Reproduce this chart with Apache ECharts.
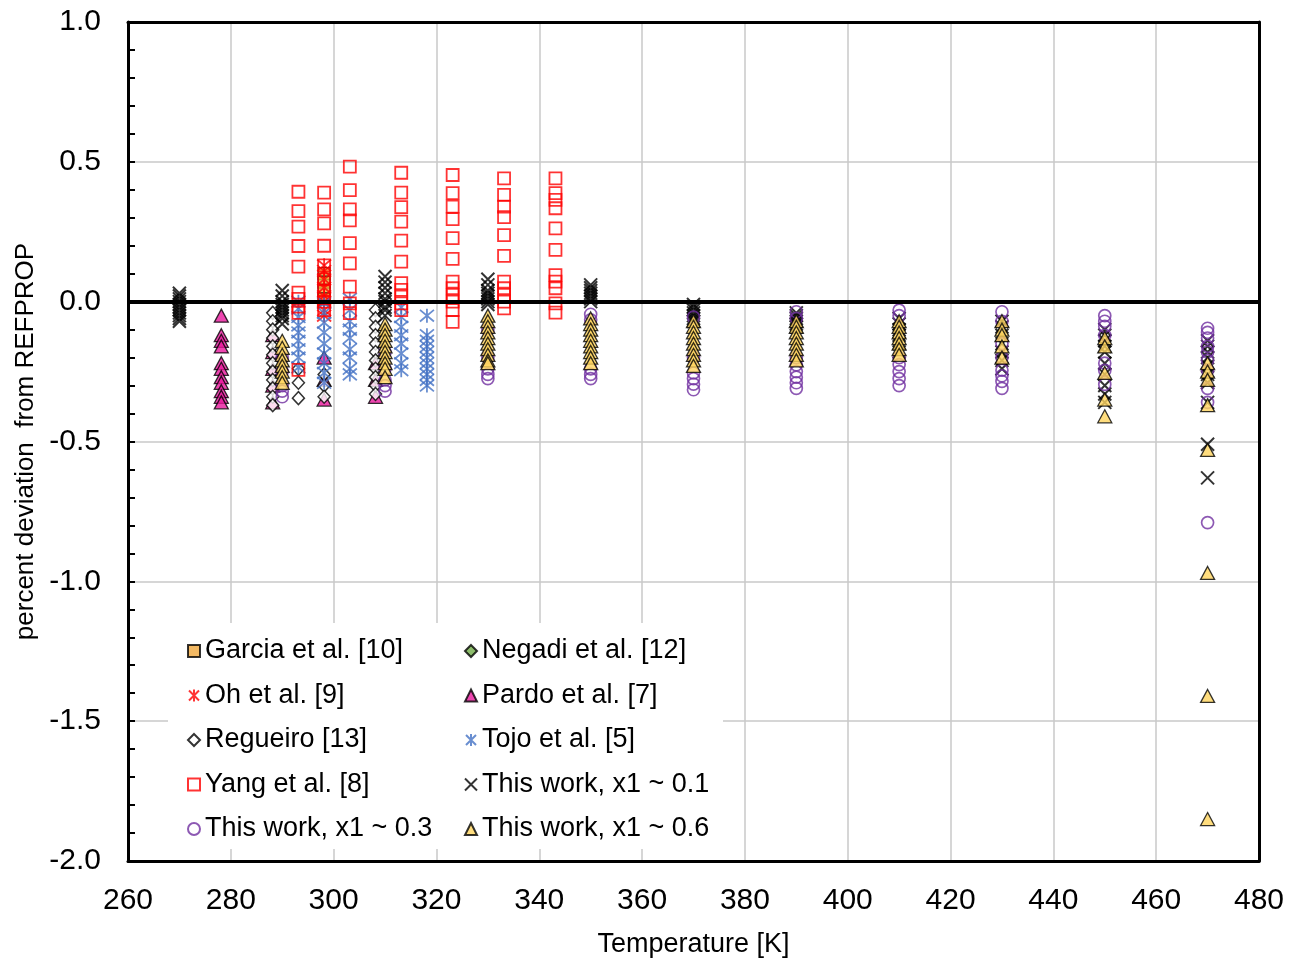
<!DOCTYPE html>
<html>
<head>
<meta charset="utf-8">
<script src="https://cdn.jsdelivr.net/npm/echarts@6/dist/echarts.min.js"></script>
<style>html,body{margin:0;padding:0;background:#fff}#c{width:1303px;height:963px}</style>
</head>
<body>
<div id="c"></div>
<script>
// ---- data (temperature in K, percent deviation from REFPROP) ----
const garciaT = [298.15];
const garciaDev = [[0.10, 0.07, 0.04, 0.01]];
const negadiT = [];
const negadiDev = [];
const ohT = [298.15];
const ohDev = [[0.13, 0.11, 0.08, 0.05, 0.02, 0.0, -0.03, -0.05]];
const pardoT = [278.15, 288.15, 298.15, 308.15];
const pardoDev = [
  [-0.05, -0.12, -0.14, -0.16, -0.22, -0.24, -0.27, -0.29, -0.32, -0.34, -0.36],
  [-0.12, -0.18, -0.24, -0.30, -0.36],
  [-0.20, -0.28, -0.35],
  [-0.22, -0.28, -0.34]
];
const regueiroT = [288.15, 293.15, 298.15, 308.15];
const regueiroDev = [
  [-0.04, -0.07, -0.10, -0.13, -0.16, -0.19, -0.22, -0.25, -0.28, -0.31, -0.34, -0.37],
  [-0.24, -0.29, -0.345],
  [-0.26, -0.30, -0.34],
  [-0.03, -0.06, -0.09, -0.12, -0.15, -0.18, -0.21, -0.24, -0.27, -0.30, -0.33]
];
const tojoT = [293.15, 298.15, 303.15, 313.15, 318.15];
const tojoDev = [
  [0.0, -0.025, -0.055, -0.085, -0.11, -0.14, -0.17, -0.20, -0.235],
  [-0.005, -0.04, -0.075, -0.11, -0.15, -0.185, -0.22, -0.255, -0.29],
  [0.01, -0.03, -0.07, -0.10, -0.13, -0.17, -0.20, -0.24, -0.26],
  [-0.02, -0.055, -0.09, -0.12, -0.15, -0.185, -0.22, -0.245],
  [-0.05, -0.12, -0.14, -0.16, -0.18, -0.20, -0.22, -0.24, -0.26, -0.28, -0.30]
];
const yangT = [293.15, 298.15, 303.15, 313.15, 323.15, 333.15, 343.15];
const yangDev = [
  [0.393, 0.324, 0.268, 0.199, 0.125, 0.032, 0.01, -0.018, -0.04, -0.244],
  [0.39, 0.33, 0.28, 0.20, 0.13, 0.08, 0.04, 0.0, -0.03],
  [0.483, 0.399, 0.33, 0.291, 0.209, 0.137, 0.054, -0.006, -0.041],
  [0.461, 0.39, 0.338, 0.286, 0.218, 0.143, 0.066, 0.042, 0.018, -0.006, -0.03],
  [0.453, 0.388, 0.34, 0.295, 0.227, 0.153, 0.072, 0.048, 0.024, 0.0, -0.03, -0.072],
  [0.441, 0.382, 0.34, 0.302, 0.238, 0.164, 0.072, 0.048, 0.024, 0.0, -0.024],
  [0.441, 0.388, 0.364, 0.334, 0.262, 0.185, 0.095, 0.072, 0.048, -0.006, -0.039]
];
const workT = [270, 290, 310, 330, 350, 370, 390, 410, 430, 450, 470];
const work01Dev = [
  [0.03, 0.02, 0.01, 0.0, -0.01, -0.02, -0.03, -0.04, -0.05, -0.06, -0.07],
  [0.04, 0.02, 0.0, -0.01, -0.02, -0.03, -0.04, -0.05, -0.06, -0.08],
  [0.09, 0.07, 0.05, 0.03, 0.01, 0.0, -0.02, -0.03, -0.05],
  [0.08, 0.06, 0.04, 0.03, 0.02, 0.01, 0.0, -0.01],
  [0.06, 0.05, 0.04, 0.03, 0.02, 0.01, 0.0],
  [-0.01, -0.02, -0.03, -0.04, -0.05, -0.06, -0.07],
  [-0.04, -0.05, -0.06, -0.07, -0.08, -0.09],
  [-0.06, -0.08, -0.10, -0.12, -0.15, -0.18],
  [-0.07, -0.09, -0.12, -0.15, -0.18, -0.21, -0.24],
  [-0.10, -0.12, -0.14, -0.16, -0.18, -0.22, -0.26, -0.30, -0.33, -0.36],
  [-0.14, -0.16, -0.18, -0.20, -0.23, -0.26, -0.29, -0.36, -0.51, -0.63]
];
const work03Dev = [
  [],
  [-0.20, -0.25, -0.30, -0.32, -0.34],
  [-0.18, -0.24, -0.28, -0.30, -0.32],
  [-0.10, -0.20, -0.24, -0.26, -0.275],
  [-0.045, -0.065, -0.24, -0.26, -0.275],
  [-0.055, -0.20, -0.255, -0.275, -0.295, -0.315],
  [-0.036, -0.06, -0.20, -0.226, -0.25, -0.27, -0.29, -0.31],
  [-0.03, -0.05, -0.20, -0.225, -0.25, -0.275, -0.30],
  [-0.036, -0.07, -0.15, -0.20, -0.245, -0.265, -0.285, -0.31],
  [-0.05, -0.07, -0.088, -0.12, -0.22, -0.246, -0.296],
  [-0.095, -0.11, -0.13, -0.16, -0.18, -0.21, -0.245, -0.31, -0.36, -0.79]
];
const work06Dev = [
  [],
  [-0.14, -0.165, -0.19, -0.21, -0.23, -0.25, -0.27, -0.29],
  [-0.08, -0.10, -0.12, -0.14, -0.16, -0.18, -0.20, -0.22, -0.24, -0.27],
  [-0.05, -0.07, -0.09, -0.11, -0.13, -0.15, -0.17, -0.19, -0.21, -0.22],
  [-0.06, -0.08, -0.10, -0.12, -0.14, -0.16, -0.18, -0.20, -0.22],
  [-0.07, -0.09, -0.11, -0.13, -0.15, -0.17, -0.19, -0.21, -0.23],
  [-0.07, -0.09, -0.11, -0.13, -0.15, -0.17, -0.19, -0.21],
  [-0.07, -0.09, -0.11, -0.13, -0.15, -0.17, -0.19],
  [-0.07, -0.10, -0.12, -0.16, -0.20],
  [-0.13, -0.16, -0.255, -0.35, -0.41],
  [-0.22, -0.25, -0.28, -0.37, -0.53, -0.97, -1.41, -1.85]
];
const xTicks = {min: 260, max: 480, interval: 20};
const yTicks = {min: -2, max: 1, interval: 0.5};

function build(temps, devs) {
  const out = [];
  temps.forEach((t, i) => (devs[i] || []).forEach(v => out.push([t, v])));
  return out;
}

const FONT = 'Liberation Sans, Arial, sans-serif';
const XPATH = 'path://M0,0L10,10M10,0L0,10';
const STAR = 'path://M0,0L10,10M10,0L0,10M5,-1L5,11';

const series = [
  {name: 'Garcia et al. [10]', data: build(garciaT, garciaDev), symbol: 'rect', symbolSize: 12,
   itemStyle: {color: '#f0a83c', borderColor: '#000', borderWidth: 1.3}},
  {name: 'Negadi et al. [12]', data: build(negadiT, negadiDev), symbol: 'diamond', symbolSize: 12,
   itemStyle: {color: '#70ad47', borderColor: '#000', borderWidth: 1.2}},
  {name: 'Oh et al. [9]', data: build(ohT, ohDev), symbol: STAR, symbolSize: 14,
   itemStyle: {color: 'rgba(0,0,0,0)', borderColor: '#ff0000', borderWidth: 1.8}},
  {name: 'Pardo et al. [7]', data: build(pardoT, pardoDev), symbol: 'triangle', symbolSize: [14, 13],
   itemStyle: {color: '#e8189c', borderColor: '#000', borderWidth: 1.3}},
  {name: 'Regueiro [13]', data: build(regueiroT, regueiroDev), symbol: 'diamond', symbolSize: [12, 13],
   itemStyle: {color: '#fff', borderColor: '#000', borderWidth: 1.5}},
  {name: 'Tojo et al. [5]', data: build(tojoT, tojoDev), symbol: STAR, symbolSize: 14,
   itemStyle: {color: 'rgba(0,0,0,0)', borderColor: '#4472c4', borderWidth: 1.8}},
  {name: 'Yang et al. [8]', data: build(yangT, yangDev), symbol: 'rect', symbolSize: 12,
   itemStyle: {color: 'rgba(0,0,0,0)', borderColor: '#ff0000', borderWidth: 1.8}},
  {name: 'This work, x1 ~ 0.1', data: build(workT, work01Dev), symbol: XPATH, symbolSize: 13,
   itemStyle: {color: 'rgba(0,0,0,0)', borderColor: '#000', borderWidth: 2}},
  {name: 'This work, x1 ~ 0.3', data: build(workT, work03Dev), symbol: 'circle', symbolSize: 12,
   itemStyle: {color: 'rgba(0,0,0,0)', borderColor: '#7030a0', borderWidth: 1.7}},
  {name: 'This work, x1 ~ 0.6', data: build(workT, work06Dev), symbol: 'triangle', symbolSize: [14, 13],
   itemStyle: {color: '#ffd45e', borderColor: '#000', borderWidth: 1.3}}
].map(s => Object.assign({type: 'scatter', z: 2}, s));

series[series.length - 1].markLine = {
  silent: true, symbol: 'none', label: {show: false},
  lineStyle: {color: '#000', width: 4, type: 'solid'},
  data: [{yAxis: 0}]
};

const legendCommon = {
  orient: 'vertical', itemWidth: 12, itemHeight: 12, itemGap: 14.5, padding: 0, z: 10,
  textStyle: {fontFamily: FONT, fontSize: 27, color: '#000', lineHeight: 30}
};

const frameAxis = {
  axisLine: {show: true, onZero: false, lineStyle: {color: '#000', width: 3}},
  axisTick: {show: false}, axisLabel: {show: false}, splitLine: {show: false}
};

const option = {
  animation: false,
  backgroundColor: '#fff',
  grid: {left: 128, right: 44, top: 22, bottom: 102, show: false, containLabel: false},
  xAxis: [{
    type: 'value', min: xTicks.min, max: xTicks.max, interval: xTicks.interval,
    name: 'Temperature [K]', nameLocation: 'middle', nameGap: 70,
    nameTextStyle: {fontFamily: FONT, fontSize: 27, color: '#000'},
    axisLine: {show: true, onZero: false, lineStyle: {color: '#000', width: 3}},
    axisTick: {show: false},
    axisLabel: {fontFamily: FONT, fontSize: 30, color: '#000', margin: 25},
    splitLine: {show: true, lineStyle: {color: '#c8c8c8', width: 1.5}}
  }, Object.assign({type: 'value', position: 'top', min: xTicks.min, max: xTicks.max, interval: xTicks.interval, z: 3}, frameAxis)],
  yAxis: [{
    type: 'value', min: yTicks.min, max: yTicks.max, interval: yTicks.interval,
    name: 'percent deviation  from REFPROP', nameLocation: 'middle', nameGap: 86, nameRotate: 90,
    nameTextStyle: {fontFamily: FONT, fontSize: 26, color: '#000'},
    axisLine: {show: true, onZero: false, lineStyle: {color: '#000', width: 3}},
    axisTick: {show: true, inside: true, length: 7, lineStyle: {color: '#000', width: 2}},
    minorTick: {show: true, splitNumber: 5, length: 7, lineStyle: {color: '#000', width: 2}},
    axisLabel: {fontFamily: FONT, fontSize: 30, color: '#000', margin: 27, formatter: v => v.toFixed(1)},
    splitLine: {show: true, lineStyle: {color: '#c8c8c8', width: 1.5}}
  }, Object.assign({type: 'value', position: 'right', min: yTicks.min, max: yTicks.max, interval: yTicks.interval, z: 3}, frameAxis)],
  graphic: [{type: 'rect', z: 5, silent: true, shape: {x: 168, y: 623, width: 555, height: 226}, style: {fill: '#fff'}}],
  legend: [
    Object.assign({left: 187, top: 636, data: ['Garcia et al. [10]', 'Oh et al. [9]', 'Regueiro [13]', 'Yang et al. [8]', 'This work, x1 ~ 0.3']}, legendCommon),
    Object.assign({left: 464, top: 636, data: ['Negadi et al. [12]', 'Pardo et al. [7]', 'Tojo et al. [5]', 'This work, x1 ~ 0.1', 'This work, x1 ~ 0.6']}, legendCommon)
  ],
  series: series
};

const chart = echarts.init(document.getElementById('c'), null, {renderer: 'canvas'});
chart.setOption(option);
</script>
</body>
</html>
